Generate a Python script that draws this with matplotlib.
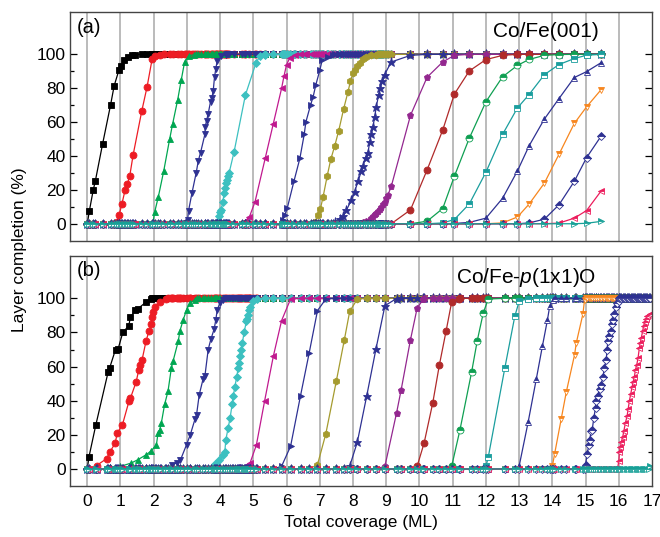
import matplotlib
matplotlib.use("Agg")
import matplotlib.pyplot as plt
from matplotlib.ticker import MultipleLocator, FixedLocator

plt.rcParams['font.family'] = ['Liberation Sans', 'DejaVu Sans']
plt.rcParams['mathtext.fontset'] = 'custom'
plt.rcParams['mathtext.rm'] = 'Liberation Sans'
plt.rcParams['mathtext.it'] = 'Liberation Sans:italic'

# ---- panel (a): Co/Fe(001), rising part of each layer (coverage ML, completion %)
a1 = [(0.0, 0), (0.06, 7.3), (0.18, 20), (0.24, 25), (0.46, 47), (0.70, 70), (0.81, 81.5),
      (0.95, 90.5), (1.02, 93), (1.12, 96.5), (1.24, 98.4), (1.35, 99.4), (1.45, 99.8)]
a2 = [(0.90, 1), (0.96, 5.3), (1.04, 11.5), (1.14, 20), (1.21, 23.7), (1.28, 28.4), (1.38, 40.6),
      (1.64, 66.5), (1.80, 80.8), (1.95, 97), (2.03, 98.8), (2.18, 99.6)]
a3 = [(1.98, 1), (2.03, 7), (2.14, 16), (2.30, 31), (2.48, 50), (2.57, 59), (2.72, 73),
      (2.83, 85), (2.93, 95.5), (3.05, 99), (3.20, 99.8)]
a4 = [(2.97, 0.5), (3.02, 2.4), (3.05, 7.8), (3.15, 18), (3.28, 30.2), (3.34, 37), (3.41, 42),
      (3.54, 52.7), (3.55, 57.3), (3.59, 60.6), (3.64, 65), (3.71, 72), (3.75, 74.3), (3.79, 78.2),
      (3.83, 86.5), (3.87, 91.6), (3.91, 96), (4.04, 98.8), (4.19, 99.8)]
a5 = [(3.92, 1), (3.97, 4.3), (4.00, 7), (4.03, 8), (4.08, 13), (4.12, 18), (4.15, 21), (4.18, 24),
      (4.21, 26), (4.24, 28), (4.27, 30), (4.42, 42.5), (4.76, 76), (5.08, 95), (5.20, 99), (5.35, 99.8)]
a6 = [(4.65, 0.5), (4.75, 1.5), (4.88, 4), (5.05, 13), (5.36, 39), (5.60, 59), (5.85, 80),
      (5.92, 87), (6.00, 94), (6.10, 98), (6.25, 99.8)]
a7 = [(5.88, 2), (5.95, 5.3), (6.02, 9.2), (6.22, 25), (6.40, 38.6), (6.53, 52.7), (6.58, 60),
      (6.72, 70), (6.80, 75), (6.88, 82), (7.00, 90.6), (7.07, 96.5), (7.25, 98.4), (7.40, 99.8)]
a8 = [(6.85, 1), (6.95, 5), (7.02, 9), (7.10, 16), (7.22, 28), (7.33, 38), (7.45, 46), (7.57, 55),
      (7.72, 68), (7.85, 78), (7.92, 84), (8.00, 89), (8.05, 91), (8.12, 93), (8.20, 95), (8.30, 97),
      (8.40, 98.5), (8.55, 99.5), (8.70, 99.8)]
a9 = [(7.45, 1), (7.60, 3), (7.70, 4.3), (7.80, 8), (7.95, 14), (8.05, 19), (8.15, 25), (8.25, 31),
      (8.30, 34), (8.38, 39), (8.45, 42), (8.50, 48), (8.55, 53), (8.60, 57), (8.65, 63), (8.70, 69),
      (8.77, 76), (8.82, 80), (8.88, 84), (8.95, 88), (9.15, 95.5), (9.73, 99.4)]
a10 = [(8.20, 0.5), (8.30, 1), (8.40, 1.5), (8.50, 2.5), (8.55, 3.5), (8.60, 4.5), (8.65, 5.5),
       (8.70, 6.5), (8.75, 7.5), (8.80, 8.5), (8.85, 10), (8.90, 11.5), (8.95, 13), (9.00, 15),
       (9.05, 17), (9.15, 22), (9.73, 64), (10.23, 86.5), (10.70, 95.5), (11.05, 99.4)]
a11 = [(9.73, 8.2), (10.23, 31.8), (10.70, 55.3), (11.05, 76.5), (11.50, 90.2), (12.00, 96.9),
       (12.50, 99.4)]
a12 = [(10.23, 1.5), (10.70, 9), (11.05, 28), (11.50, 50.5), (12.00, 72), (12.50, 86.7),
       (12.95, 93.5), (13.30, 97), (13.76, 99.4), (14.20, 99.9)]
a13 = [(10.70, 0.5), (11.05, 2.5), (11.50, 11.7), (12.00, 30.4), (12.50, 52.7), (12.95, 68.4),
       (13.30, 76.3), (13.76, 88), (14.20, 94), (14.66, 97.5), (15.03, 99.5), (15.47, 100)]
a14 = [(11.05, 0.2), (11.50, 0.8), (12.00, 3.3), (12.50, 15), (12.95, 31.2), (13.30, 46),
       (13.76, 61.8), (14.20, 73.9), (14.66, 86.3), (15.03, 89.8), (15.47, 95.1)]
a15 = [(12.00, 0), (12.50, 0.5), (12.95, 4), (13.30, 11.6), (13.76, 24), (14.20, 41),
       (14.66, 59.2), (15.03, 69), (15.47, 79.2)]
a16 = [(13.30, 0.5), (13.76, 2.7), (14.20, 11.2), (14.66, 25), (15.03, 39), (15.47, 51.8)]
a17 = [(14.20, 0.4), (14.66, 3.3), (15.03, 7.8), (15.47, 19.4)]
a18 = [(15.03, 0.3), (15.47, 1.4)]

# ---- panel (b): Co/Fe-p(1x1)O
b1 = [(0.0, 0), (0.05, 7), (0.26, 26), (0.63, 57), (0.67, 59), (0.85, 70), (0.93, 70.5), (1.07, 80),
      (1.25, 84), (1.30, 89), (1.45, 93), (1.53, 94), (1.78, 98), (1.93, 99.6)]
b2 = [(0.28, 2), (0.58, 6), (0.68, 10), (0.84, 15), (0.90, 21), (1.06, 26), (1.26, 40), (1.30, 41.5),
      (1.47, 51), (1.55, 58), (1.60, 61), (1.65, 64), (1.77, 75), (1.86, 81), (1.93, 85), (1.95, 89),
      (1.99, 92), (2.03, 95), (2.18, 98), (2.38, 99.5)]
b3 = [(0.68, 1), (1.00, 1.5), (1.33, 3.5), (1.53, 5.5), (1.78, 8.4), (1.91, 10.4), (2.08, 14),
      (2.13, 21), (2.18, 23), (2.23, 27), (2.33, 38), (2.43, 45.5), (2.53, 59), (2.58, 63),
      (2.74, 75), (2.79, 81), (2.89, 87.5), (2.99, 93.4), (3.09, 97.3), (3.24, 99.2)]
b4 = [(2.54, 2.5), (2.69, 3.5), (2.80, 5), (2.99, 14.3), (3.10, 20), (3.24, 29), (3.29, 31.8),
      (3.37, 43.5), (3.49, 53), (3.54, 54.3), (3.64, 70), (3.72, 76), (3.82, 82), (3.87, 87.5),
      (3.91, 93), (3.99, 97.3), (4.10, 99.3)]
b5 = [(3.84, 3), (3.98, 5), (4.10, 8), (4.14, 10), (4.17, 17), (4.24, 24), (4.30, 30), (4.36, 38),
      (4.40, 43), (4.44, 48), (4.50, 54), (4.54, 59), (4.58, 62), (4.61, 66), (4.64, 70), (4.67, 74),
      (4.72, 80), (4.79, 86.5), (4.82, 88), (4.84, 90), (4.88, 93), (4.91, 95), (4.99, 98.2), (5.10, 99.6)]
b6 = [(4.50, 1), (4.75, 2), (4.90, 3.5), (5.09, 14), (5.34, 40), (5.60, 66), (5.85, 87), (6.12, 99.6)]
b7 = [(5.85, 1.6), (6.12, 13.3), (6.42, 43), (6.68, 68), (6.93, 92.8), (7.18, 99.6)]
b8 = [(6.93, 2.5), (7.18, 20.5), (7.50, 51.8), (7.74, 75.8), (7.90, 92.4), (8.13, 99.6)]
b9 = [(7.90, 1.6), (8.13, 15.8), (8.41, 42.6), (8.69, 70.3), (8.96, 95.7), (9.31, 99.9)]
b10 = [(8.96, 1.6), (9.31, 32.8), (9.45, 46.5), (9.73, 75.8), (9.93, 94.3), (10.12, 99.6)]
b11 = [(9.93, 1.6), (10.14, 15.2), (10.40, 38.7), (10.60, 61), (10.80, 80.7), (10.97, 97.9), (11.20, 99.9)]
b12 = [(10.97, 1.6), (11.22, 23), (11.57, 56.8), (11.74, 75.2), (11.92, 91.4), (12.07, 99.6)]
b13 = [(12.00, 1.5), (12.07, 6.8), (12.57, 59.2), (12.87, 89.5), (13.00, 98.2), (13.27, 99.9)]
b14 = [(13.00, 1.6), (13.27, 27.3), (13.52, 53), (13.70, 71.9), (13.85, 87.1), (13.92, 95.3), (14.02, 98.8)]
b15 = [(14.00, 1.6), (14.07, 9), (14.27, 29.5), (14.42, 45.1), (14.67, 67), (14.72, 73.8),
       (14.92, 90.8), (14.97, 99.2)]
b16 = [(15.00, 2.5), (15.05, 9), (15.10, 14), (15.12, 17), (15.17, 22), (15.20, 23), (15.25, 30),
       (15.30, 36), (15.32, 40), (15.37, 43), (15.42, 47), (15.47, 49), (15.52, 54), (15.57, 59),
       (15.62, 64), (15.65, 70), (15.67, 75), (15.72, 78), (15.77, 81), (15.80, 85), (15.84, 87.5),
       (15.87, 91), (15.92, 95), (15.96, 97), (16.00, 98.2)]
b17 = [(16.00, 4.5), (16.02, 10), (16.05, 13), (16.08, 16), (16.12, 19), (16.15, 22), (16.20, 27),
       (16.25, 31), (16.28, 35), (16.32, 40), (16.36, 44), (16.40, 48), (16.43, 51), (16.47, 54),
       (16.50, 58), (16.54, 61), (16.58, 65), (16.62, 71), (16.65, 74), (16.68, 77), (16.72, 81),
       (16.75, 84), (16.78, 86), (16.82, 88), (16.86, 89.5), (16.90, 90.5), (16.95, 91)]
b18 = [(16.95, 1.5)]

layers_a = [a1, a2, a3, a4, a5, a6, a7, a8, a9, a10, a11, a12, a13, a14, a15, a16, a17, a18]
layers_b = [b1, b2, b3, b4, b5, b6, b7, b8, b9, b10, b11, b12, b13, b14, b15, b16, b17, b18]

# colour, marker, fill for layer 1..18
colors = ['#000000', '#ed1c24', '#00a651', '#2e3192', '#3cc0c0', '#c0198f', '#2e3192', '#a59b2f',
          '#2e3192', '#93278f', '#b02a2a', '#0f9f52', '#1b9e9e', '#2e3192', '#f7861e', '#2e3192',
          '#ec1c5c', '#17a097']
markers = ['s', 'o', '^', 'v', 'D', '<', '>', 'h', '*', 'p', 'o', 'o', 's', '^', 'v', 'D', '<', '>']
fills = ['full'] * 11 + ['top'] * 7


def full_curve(layer, grid):
    # layer is 0 % before its rise and 100 % after, at every measured coverage
    x0, x1 = layer[0][0], layer[-1][0]
    xs = [g for g in grid if g < x0] + [p[0] for p in layer] + [g for g in grid if g > x1]
    ys = [0] * len([g for g in grid if g < x0]) + [p[1] for p in layer] + \
         [100] * len([g for g in grid if g > x1])
    return xs, ys


def draw_panel(ax, layers):
    grid = sorted(set(p[0] for layer in layers for p in layer))
    for i in range(17):
        ax.axvline(i, color='#a8a8a8', lw=1.1, zorder=0.5)
    for i, layer in enumerate(layers):
        xs, ys = full_curve(layer, grid)
        ms = 6.5 if markers[i] == '*' else (4.2 if markers[i] == 'D' else 5)
        ax.plot(xs, ys, color=colors[i], lw=0.9, marker=markers[i], ms=ms,
                fillstyle=fills[i], markerfacecoloralt='white', mec=colors[i], mew=0.6,
                zorder=2 + i * 0.01)
    ax.set_xlim(-0.52, 17.0)
    ax.set_ylim(-10, 125)
    ax.yaxis.set_major_locator(FixedLocator([0, 20, 40, 60, 80, 100]))
    ax.yaxis.set_minor_locator(FixedLocator([10, 30, 50, 70, 90]))
    ax.set_xticks(range(18))
    ax.tick_params(axis='y', which='both', direction='in', left=True, right=True, labelsize=12.5, pad=3)
    ax.tick_params(axis='y', which='major', length=5, width=0.9)
    ax.tick_params(axis='y', which='minor', length=3, width=0.9)
    ax.tick_params(axis='x', length=0, labelsize=12.5, pad=6)
    for s in ax.spines.values():
        s.set_color('#444444')
        s.set_linewidth(1.0)


fig = plt.figure(figsize=(6.6, 5.37), dpi=100)
ax_a = fig.add_axes([70 / 660, 1 - 240.7 / 537, 582 / 660, 228.7 / 537])
ax_b = fig.add_axes([70 / 660, 1 - 486 / 537, 582 / 660, 230.3 / 537])

draw_panel(ax_a, layers_a)
draw_panel(ax_b, layers_b)
ax_a.tick_params(axis='x', labelbottom=False)

ax_a.text(0.012, 0.975, "(a)", transform=ax_a.transAxes, ha='left', va='top', fontsize=14.5)
ax_a.text(0.908, 0.955, "Co/Fe(001)", transform=ax_a.transAxes, ha='right', va='top', fontsize=15)
ax_b.text(0.012, 0.975, "(b)", transform=ax_b.transAxes, ha='left', va='top', fontsize=14.5)
ax_b.text(0.905, 0.955, r"Co/Fe-$\it{p}$(1x1)O", transform=ax_b.transAxes, ha='right', va='top',
          fontsize=15)

fig.text(20 / 660, 1 - 250 / 537, "Layer completion (%)", rotation=90, ha='center', va='center',
         fontsize=12.5)
fig.text(361 / 660, 1 - 523 / 537, "Total coverage (ML)", ha='center', va='center', fontsize=12.5)

fig.savefig("out.png", dpi=100)
